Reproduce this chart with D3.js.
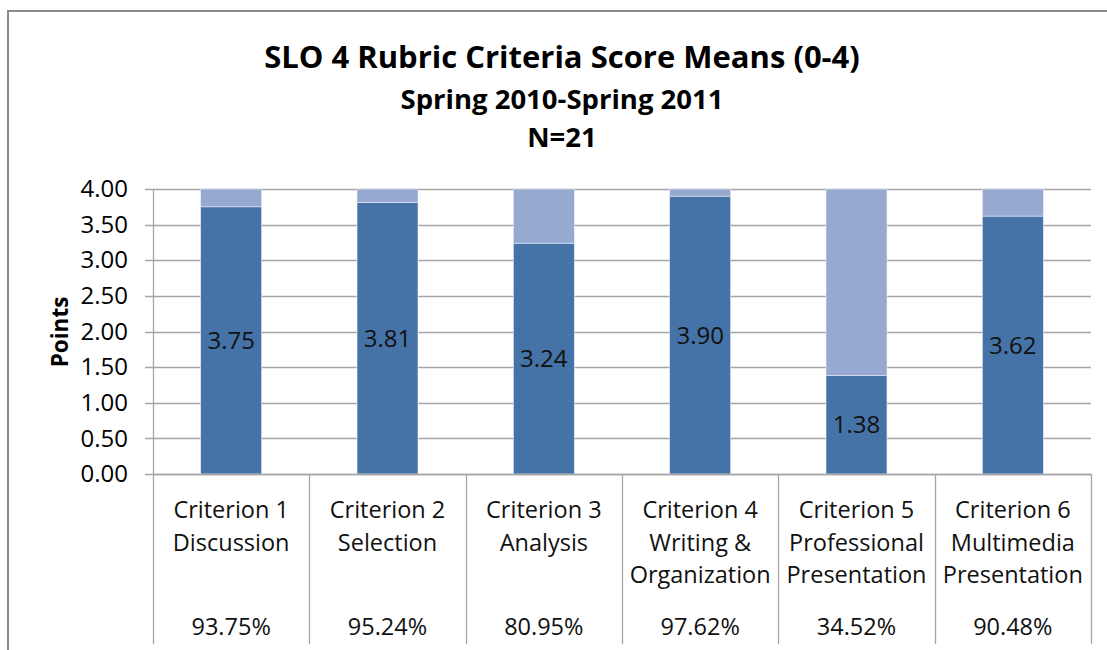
<!DOCTYPE html>
<html>
<head>
<meta charset="utf-8">
<script src="https://cdn.jsdelivr.net/npm/d3@7"></script>
<style>
  html, body { margin: 0; padding: 0; background: #fff; }
  svg { display: block; font-family: "Open Sans", "Noto Sans", sans-serif; }
</style>
</head>
<body>
<svg id="chart" width="1107" height="650"></svg>
<script>
const categories = ["Criterion 1", "Criterion 2", "Criterion 3", "Criterion 4", "Criterion 5", "Criterion 6"];
const categoryLabels = [
  ["Criterion 1", "Discussion"],
  ["Criterion 2", "Selection"],
  ["Criterion 3", "Analysis"],
  ["Criterion 4", "Writing &", "Organization"],
  ["Criterion 5", "Professional", "Presentation"],
  ["Criterion 6", "Multimedia", "Presentation"]
];
const means = [3.75, 3.81, 3.24, 3.90, 1.38, 3.62];
const remainders = [0.25, 0.19, 0.76, 0.10, 2.62, 0.38];
const percents = ["93.75%", "95.24%", "80.95%", "97.62%", "34.52%", "90.48%"];
const yTicks = [0, 0.5, 1, 1.5, 2, 2.5, 3, 3.5, 4];
const titleLines = ["SLO 4 Rubric Criteria Score Means (0-4)", "Spring 2010-Spring 2011", "N=21"];
const yAxisTitle = "Points";

const svg = d3.select("#chart");
const W = 1107, H = 650;
const plot = { left: 153, right: 1091, top: 189, bottom: 474 };

svg.append("rect").attr("width", W).attr("height", H).attr("fill", "#fff");

// outer frame (left + top visible)
svg.append("line").attr("x1", 8).attr("x2", W).attr("y1", 11).attr("y2", 11)
  .attr("stroke", "#8a8a8a").attr("stroke-width", 2);
svg.append("line").attr("x1", 8).attr("x2", 8).attr("y1", 10).attr("y2", H)
  .attr("stroke", "#8a8a8a").attr("stroke-width", 2);

// titles
const tcx = 562;
svg.append("text").attr("x", tcx).attr("y", 68).attr("text-anchor", "middle")
  .attr("font-weight", "bold").attr("font-size", 31).attr("fill", "#000").text(titleLines[0]);
svg.append("text").attr("x", tcx).attr("y", 109).attr("text-anchor", "middle")
  .attr("font-weight", "bold").attr("font-size", 27.5).attr("fill", "#000").text(titleLines[1]);
svg.append("text").attr("x", tcx).attr("y", 147).attr("text-anchor", "middle")
  .attr("font-weight", "bold").attr("font-size", 27.5).attr("fill", "#000").text(titleLines[2]);

const x = d3.scaleBand().domain(categories).range([plot.left, plot.right])
  .paddingInner(0.61).paddingOuter(0.305);
const xc = d3.scaleBand().domain(categories).range([plot.left, plot.right]).padding(0);
const y = d3.scaleLinear().domain([0, 4]).range([plot.bottom, plot.top]);

// gridlines
svg.append("g").selectAll("line").data(yTicks).join("line")
  .attr("x1", plot.left - 8).attr("x2", plot.right)
  .attr("y1", d => Math.round(y(d)) + 0.5).attr("y2", d => Math.round(y(d)) + 0.5)
  .attr("stroke", "#a6a6a6").attr("stroke-width", 1.3);

// y axis
const yAxis = d3.axisLeft(y).tickValues(yTicks).tickFormat(d3.format(".2f")).tickSize(0).tickPadding(25);
const ya = svg.append("g").attr("transform", `translate(${plot.left},0)`).call(yAxis);
ya.select(".domain").remove();
ya.selectAll("text").attr("font-size", 24).attr("fill", "#000").attr("font-family", "'Open Sans', sans-serif");

svg.append("text").attr("transform", `translate(68,332) rotate(-90)`).attr("text-anchor", "middle")
  .attr("font-weight", "bold").attr("font-size", 22.5).attr("fill", "#000").text(yAxisTitle);

// vertical axis line of plot
svg.append("line").attr("x1", plot.left + 0.5).attr("x2", plot.left + 0.5)
  .attr("y1", plot.top).attr("y2", plot.bottom).attr("stroke", "#a6a6a6").attr("stroke-width", 1.3);

// bars
const stackData = categories.map((c, i) => ({ cat: c, mean: means[i], rest: remainders[i] }));
const stack = d3.stack().keys(["mean", "rest"])(stackData);
const colors = { mean: "#4572A7", rest: "#95A9D1" };
svg.append("g").selectAll("g").data(stack).join("g")
  .attr("fill", d => colors[d.key])
  .selectAll("rect").data(d => d).join("rect")
  .attr("x", d => x(d.data.cat)).attr("width", x.bandwidth())
  .attr("y", d => y(d[1])).attr("height", d => y(d[0]) - y(d[1]))
  .attr("stroke", "#e9edf5").attr("stroke-width", 0.6);

// data labels
svg.append("g").selectAll("text").data(stackData).join("text")
  .attr("x", d => x(d.cat) + x.bandwidth() / 2)
  .attr("y", d => (y(0) + y(d.mean)) / 2)
  .attr("dy", "0.36em").attr("text-anchor", "middle")
  .attr("font-size", 24).attr("fill", "#111").text(d => d3.format(".2f")(d.mean));

// data table lines
const bounds = categories.map(c => xc(c)).concat([plot.right]);
svg.append("line").attr("x1", plot.left).attr("x2", plot.right)
  .attr("y1", plot.bottom + 0.5).attr("y2", plot.bottom + 0.5).attr("stroke", "#a6a6a6").attr("stroke-width", 1.3);
svg.append("g").selectAll("line").data(bounds).join("line")
  .attr("x1", d => Math.round(d) + 0.5).attr("x2", d => Math.round(d) + 0.5)
  .attr("y1", plot.bottom).attr("y2", 644)
  .attr("stroke", "#a6a6a6").attr("stroke-width", 1.3);

// category labels
const cl = svg.append("g").selectAll("text").data(categories).join("text")
  .attr("text-anchor", "middle").attr("font-size", 23.5).attr("fill", "#111");
cl.each(function(c, i) {
  const t = d3.select(this);
  categoryLabels[i].forEach((s, j) => {
    t.append("tspan").attr("x", xc(c) + xc.bandwidth() / 2).attr("y", 518 + j * 32.5).text(s);
  });
});
svg.append("g").selectAll("text").data(categories).join("text")
  .attr("x", c => xc(c) + xc.bandwidth() / 2).attr("y", 635)
  .attr("text-anchor", "middle").attr("font-size", 23.5).attr("fill", "#111")
  .text((c, i) => percents[i]);
</script>
</body>
</html>
